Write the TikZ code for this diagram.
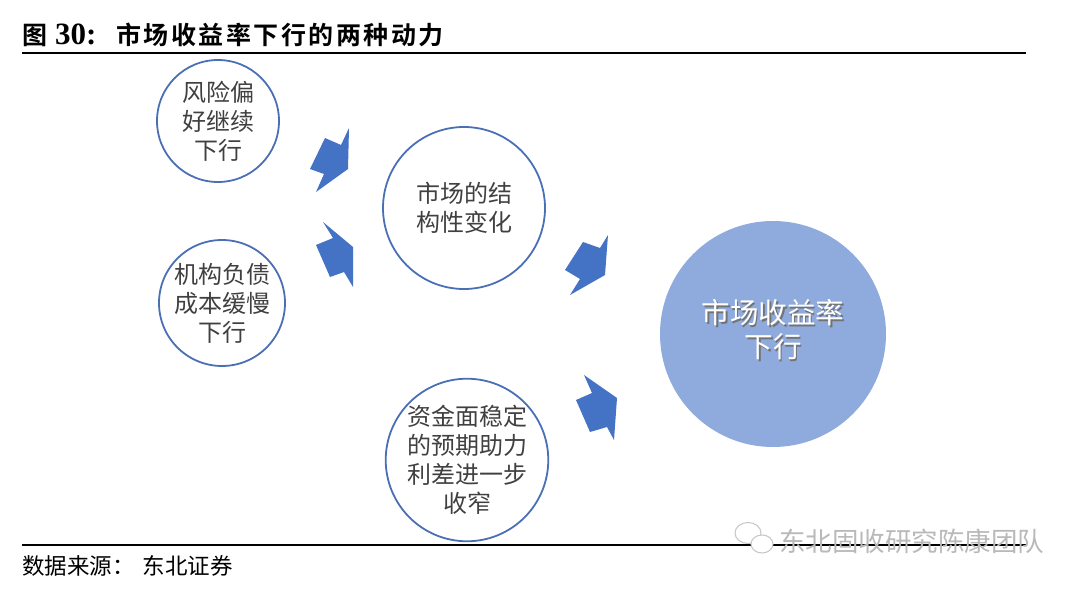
\documentclass[tikz,border=0pt]{standalone}
\usepackage{fontspec}
\setmainfont{Liberation Serif}
\newfontfamily\cjk{Noto Sans CJK SC}
\newfontfamily\cjkb{Noto Sans CJK SC}[UprightFont={* Bold}, LetterSpace=10]
\definecolor{azulBorda}{HTML}{4A6FB5}
\definecolor{azulSeta}{HTML}{4472C4}
\definecolor{azulClaro}{HTML}{8FAADC}
\definecolor{textoCinza}{HTML}{404040}
\begin{document}
\begin{tikzpicture}[x=1pt,y=-1pt]
\tikzset{
    fator/.style={circle, draw=azulBorda, line width=1.8pt, text=textoCinza,
                  font=\cjk\fontsize{24}{29}\selectfont, align=center, inner sep=0pt},
    alvo/.style={circle, fill=azulClaro, draw=none, inner sep=0pt, minimum size=226pt},
    rotuloAlvo/.style={text=white, align=center, font=\cjk\fontsize{28.5}{34}\selectfont},
    sombraAlvo/.style={rotuloAlvo, text=black!55},
    seta/.style={fill=azulSeta, draw=none},
    regua/.style={line width=2pt}
}
\useasboundingbox (0,0) rectangle (1080,589);

% Titulo e regras
\node[anchor=base west, inner sep=0pt] (titulo) at (22,44)
  {\cjkb\fontsize{25}{25}\selectfont 图\hspace{8pt}{\rmfamily\fontsize{31}{31}\selectfont\bfseries 30:}\hspace{20pt}市场收益率下行的两种动力};
\draw[regua] (22,53) -- (1026,53);
\draw[regua] (22,545) -- (1026,545);
\node[anchor=west, inner sep=0pt] (fonte) at (22,566)
  {\cjk\fontsize{22.5}{22.5}\selectfont 数据来源：\hspace{8pt}东北证券};

% Fatores
\node[fator, minimum size=122pt] (risco)     at (218,121) {风险偏\\好继续\\下行};
\node[fator, minimum size=126pt] (passivo)   at (222,303) {机构负债\\成本缓慢\\下行};
\node[fator, minimum size=162pt] (estrutura) at (464,208) {市场的结\\构性变化};
\node[fator, minimum size=160pt] (liquidez)  at (467,460) {资金面稳定\\的预期助力\\利差进一步\\收窄};

% Resultado
\node[alvo] (rendimento) at (773,334) {};
\node[sombraAlvo] (rendimentoSombra) at (774.5,331.5) {市场收益率\\下行};
\node[rotuloAlvo] (rendimentoTexto)  at (773,330) {市场收益率\\下行};

% Setas
\fill[seta] (349,128) -- (348,169) -- (316,192) -- (324,174) -- (310,169) -- (325,138) -- (341,145) -- cycle;
\fill[seta] (323,222) -- (333,238) -- (316,245) -- (330,277) -- (344,272) -- (353,287) -- (353,247) -- cycle;
\fill[seta] (608,235) -- (605,275) -- (570,295) -- (580,279) -- (565,270) -- (583,242) -- (600,248) -- cycle;
\fill[seta] (584,375) -- (592,393) -- (576,400) -- (590,432) -- (607,427) -- (614,440) -- (617,398) -- cycle;

% Marca d'agua
\draw[gray!45, fill=white, line width=1pt] (748,533) ellipse (13 and 10.5);
\draw[gray!45, fill=white, line width=1pt] (762,544) ellipse (11 and 9);
\node[anchor=west, inner sep=0pt, text=gray!55] (marca) at (779,541)
  {\cjk\fontsize{26.5}{26.5}\selectfont 东北固收研究陈康团队};
\end{tikzpicture}
\end{document}
